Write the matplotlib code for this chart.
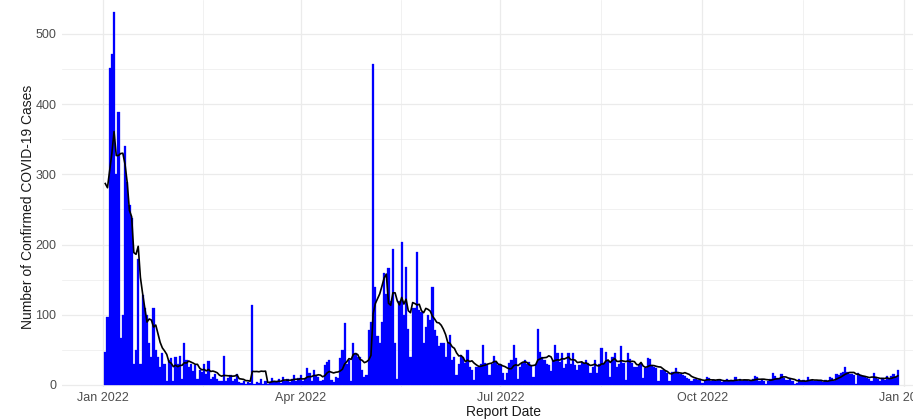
import pandas as pd
import matplotlib
matplotlib.use("Agg")
import matplotlib.pyplot as plt

# daily confirmed cases, 2 Jan 2022 .. 29 Dec 2022
jan = [47, 97, 451, 472, 532, 300, 389, 67, 100, 340, 289, 256, 238, 30, 50,
       180, 30, 128, 110, 100, 60, 40, 110, 50, 40, 25, 45, 30, 5, 35]
feb = [38, 5, 40, 30, 41, 8, 60, 35, 25, 30, 20, 28, 8, 22, 18, 30, 15, 34,
       8, 12, 15, 8, 6, 5, 42, 6, 10, 14]
mar = [5, 8, 16, 4, 3, 6, 2, 4, 3, 114, 2, 4, 3, 8, 2, 5, 1, 4, 10, 6, 5, 8,
       3, 12, 6, 9, 4, 8, 14, 5, 10]
apr = [14, 5, 8, 24, 17, 6, 21, 14, 12, 5, 7, 28, 33, 36, 7, 4, 12, 10, 38,
       50, 88, 30, 35, 5, 60, 45, 40, 40, 21, 12]
may = [14, 78, 90, 457, 140, 70, 60, 90, 159, 130, 166, 120, 194, 60, 9, 120,
       204, 100, 168, 80, 40, 110, 110, 190, 107, 104, 60, 83, 100, 93, 140]
jun = [78, 70, 55, 60, 60, 40, 60, 71, 35, 40, 14, 30, 43, 40, 31, 50, 26, 21,
       7, 26, 26, 30, 57, 31, 30, 14, 30, 41, 33, 28]
jul = [28, 17, 7, 17, 31, 35, 57, 38, 9, 25, 31, 36, 30, 33, 28, 12, 30, 80,
       47, 40, 36, 30, 28, 20, 35, 57, 45, 33, 45, 24, 30]
aug = [45, 30, 46, 28, 21, 28, 33, 30, 35, 31, 17, 26, 36, 17, 30, 53, 31, 47,
       35, 12, 40, 45, 26, 30, 55, 31, 7, 46, 37, 31, 26]
sep = [26, 28, 31, 10, 24, 38, 37, 27, 26, 24, 5, 22, 21, 20, 17, 6, 19, 18,
       24, 19, 16, 14, 13, 10, 9, 5, 9, 8, 7, 8]
oct_ = [3, 6, 11, 10, 6, 7, 5, 7, 7, 4, 6, 8, 5, 7, 6, 11, 6, 8, 6, 7, 7, 5,
        6, 8, 13, 12, 6, 8, 5, 2, 6]
nov = [8, 17, 13, 10, 8, 15, 10, 7, 7, 8, 6, 2, 3, 8, 6, 7, 6, 11, 7, 7, 5, 6,
       5, 6, 4, 7, 5, 11, 10, 6]
dec = [16, 14, 17, 19, 25, 19, 15, 16, 14, 1, 17, 14, 13, 11, 10, 8, 6, 17,
       11, 8, 6, 10, 7, 13, 9, 13, 16, 12, 22]

# last days of Dec 2021 (not drawn), only feed the 7-day average at the start
prior_days = [139, 280, 300, 315, 539, 389]

major_dates = ["2022-01-01", "2022-04-01", "2022-07-01", "2022-10-01", "2023-01-01"]
minor_dates = ["2022-02-15 12:00", "2022-05-16 12:00", "2022-08-16 00:00", "2022-11-16 00:00"]
y_ticks = [0, 100, 200, 300, 400, 500]

cases = jan + feb + mar + apr + may + jun + jul + aug + sep + oct_ + nov + dec
dates = pd.date_range("2022-01-02", periods=len(cases), freq="D")

full = pd.Series(prior_days + cases, dtype=float)
avg7 = full.rolling(7, min_periods=1).mean().to_numpy()[len(prior_days):]

plt.rcParams["font.family"] = ["Liberation Sans", "DejaVu Sans"]

W, H = 913, 420
fig = plt.figure(figsize=(W / 100, H / 100), dpi=100)
ax = fig.add_axes([62 / W, 33 / H, (W - 62) / W, 387 / H])

# bars touch each other like the original's solid blue mass
ax.bar(dates, cases, width=1.0, color="#0000FF", edgecolor="#0000FF",
       linewidth=0.2, zorder=2)
ax.plot(dates, avg7, color="black", lw=1.2, zorder=3)

# the original panel runs past the right edge, so the last label is cut
ax.set_xlim(pd.Timestamp("2021-12-13 07:00"), pd.Timestamp("2023-01-04 21:00"))
ax.set_ylim(-2.85, 548.4)

ax.set_xticks([pd.Timestamp(d) for d in major_dates])
ax.set_xticklabels([pd.Timestamp(d).strftime("%b %Y") for d in major_dates])
ax.set_xticks([pd.Timestamp(d) for d in minor_dates], minor=True)
ax.set_yticks(y_ticks)
ax.set_yticks([50, 150, 250, 350, 450], minor=True)

ax.grid(which="major", color="#EBEBEB", lw=0.9)
ax.grid(which="minor", color="#EBEBEB", lw=0.5)
ax.set_axisbelow(True)
for s in ax.spines.values():
    s.set_visible(False)

ax.tick_params(which="both", length=0, labelsize=9, labelcolor="#4D4D4D")
ax.tick_params(axis="x", pad=3.5)
ax.tick_params(axis="y", pad=4)

fig.text(503 / W, 1 - 412 / H, "Report Date", ha="center", va="center",
         fontsize=10, color="#1A1A1A")
fig.text(28 / W, 1 - 207 / H, "Number of Confirmed COVID-19 Cases",
         rotation=90, ha="center", va="center", fontsize=10, color="#1A1A1A")

fig.savefig("out.png", dpi=100, facecolor="white")
